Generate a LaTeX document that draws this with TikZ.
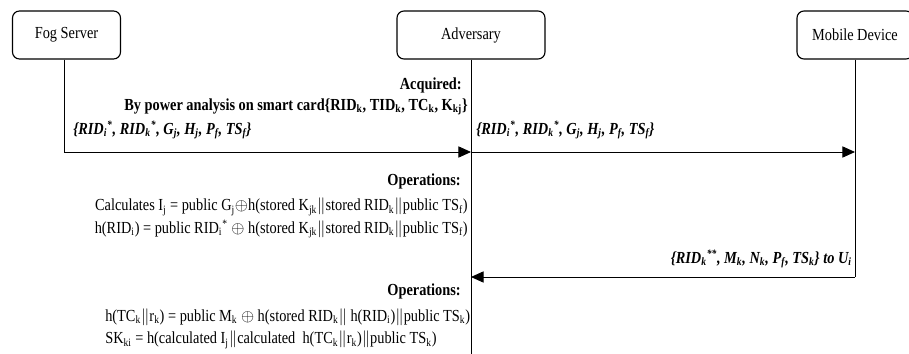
\documentclass[tikz,border=0pt]{standalone}
\usepackage{fontspec}
\setmainfont{Liberation Serif}[FakeStretch=0.85]
\usetikzlibrary{arrows.meta}
\newcommand{\sbs}[1]{\textsubscript{#1}}

\begin{document}
\begin{tikzpicture}[x=0.025cm,y=-0.025cm,
        actor/.style={draw,rounded corners=5pt,line width=0.8pt,minimum height=1.2cm,font=\fontsize{12}{14}\selectfont},
        msg/.style={-{Triangle[length=9pt,width=8pt]},line width=0.6pt},
        txt/.style={inner sep=0pt,font=\fontsize{12}{14}\selectfont}]
        \useasboundingbox (0,0) rectangle (909,354);
        % participants
        \node[actor,minimum width=2.7cm] (fog) at (66.5,35) {Fog Server};
        \node[actor,minimum width=3.7cm] (adv) at (471,35) {Adversary};
        \node[actor,minimum width=2.9cm] (mob) at (855,35) {Mobile Device};
        \coordinate (f1) at (64,152);
        \coordinate (a1) at (471,152);
        \coordinate (m1) at (855,152);
        \coordinate (m2) at (855,277);
        \coordinate (a2) at (471,277);
        \coordinate (aend) at (471,354);
        % lifelines
        \draw[line width=0.6pt] (fog.south -| f1) -- (f1);
        \draw[line width=0.6pt] (adv.south) -- (aend);
        \draw[line width=0.6pt] (mob.south) -- (m2);
        % messages
        \draw[msg] (f1) -- (a1);
        \draw[msg] (a1) -- (m1);
        \draw[msg] (m2) -- (a2);
        % texts
        \node[txt,anchor=east] (acq) at (462,85) {\textbf{Acquired:}};
        \node[txt,anchor=east] (pwr) at (468,107) {\textbf{By power analysis on smart card\{RID\sbs{k}, TID\sbs{k}, TC\sbs{k}, K\sbs{kj}\}}};
        \node[txt,anchor=west] (msg1) at (73,130) {\textbf{\textit{\{RID\sbs{i}\textsuperscript{*}, RID\sbs{k}\textsuperscript{*}, G\sbs{j}, H\sbs{j}, P\sbs{f}, TS\sbs{f}\}}}};
        \node[txt,anchor=west] (msg2) at (476,130) {\textbf{\textit{\{RID\sbs{i}\textsuperscript{*}, RID\sbs{k}\textsuperscript{*}, G\sbs{j}, H\sbs{j}, P\sbs{f}, TS\sbs{f}\}}}};
        \node[txt,anchor=east] (op1) at (461,181) {\textbf{Operations:}};
        \node[txt,anchor=east] (calc1) at (468,207) {Calculates I\sbs{j} = public G\sbs{j}$\oplus$h(stored K\sbs{jk}$\|$stored RID\sbs{k}$\|$public TS\sbs{f})};
        \node[txt,anchor=east] (calc2) at (468,229) {h(RID\sbs{i}) = public RID\sbs{i}\textsuperscript{*} $\oplus$ h(stored K\sbs{jk}$\|$stored RID\sbs{k}$\|$public TS\sbs{f})};
        \node[txt,anchor=east] (msg3) at (852,259) {\textbf{\textit{\{RID\sbs{k}\textsuperscript{**}, M\sbs{k}, N\sbs{k}, P\sbs{f}, TS\sbs{k}\} to U\sbs{i}}}};
        \node[txt,anchor=east] (op2) at (461,291) {\textbf{Operations:}};
        \node[txt,anchor=west] (calc3) at (105,317) {h(TC\sbs{k}$\|$r\sbs{k}) = public M\sbs{k} $\oplus$ h(stored RID\sbs{k}$\|$ h(RID\sbs{i})$\|$public TS\sbs{k})};
        \node[txt,anchor=west] (calc4) at (105,340) {SK\sbs{ki} = h(calculated I\sbs{j}$\|$calculated~ h(TC\sbs{k}$\|$r\sbs{k})$\|$public TS\sbs{k})};
    \end{tikzpicture}
\end{document}
